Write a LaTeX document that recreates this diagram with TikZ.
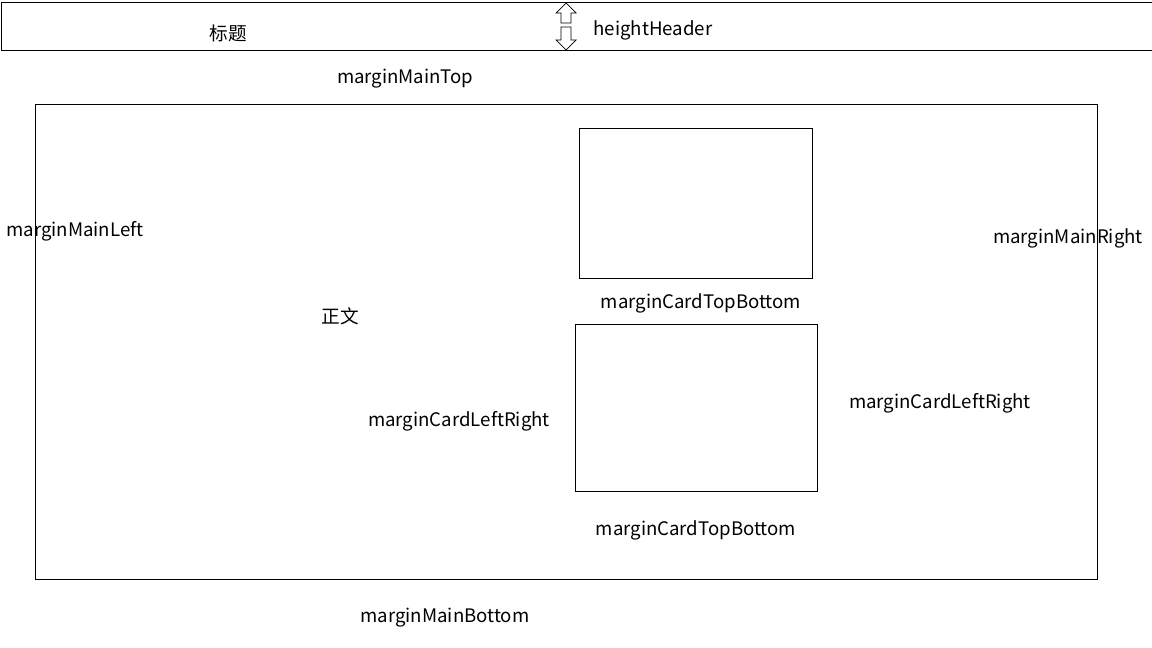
\documentclass[tikz,border=0pt]{standalone}
\usepackage{fontspec}
\setmainfont{Noto Sans CJK SC}
\usetikzlibrary{positioning}

\tikzset{
  box/.style={draw, thin},
  lbl/.style={font=\fontsize{10.6}{12}\selectfont, inner sep=0pt, yshift=-0.05cm},
  blockarrow/.style={draw, thin, fill=white}
}

\begin{document}
\begin{tikzpicture}[x=0.02cm, y=-0.02cm]
   \useasboundingbox (0,0) rectangle (1152,648);
   % header
   \draw [box] (1,2) rectangle (1152,50);
   \node [lbl] (title) at (228,31) {标题};
   \draw [blockarrow] (566,3) -- (576,13) -- (571,13) -- (571,23) -- (561,23) -- (561,13) -- (556,13) -- cycle;
   \draw [blockarrow] (566,50) -- (576,40) -- (571,40) -- (571,27) -- (561,27) -- (561,40) -- (556,40) -- cycle;
   \node [lbl] (hh) at (653,28) {heightHeader};
   \node [lbl] (mtop) at (405,76) {marginMainTop};
   % main area
   \draw [box] (35,104) rectangle (1097,579);
   \node [lbl] (mleft) at (75,229) {marginMainLeft};
   \node [lbl] (mright) at (1068,236) {marginMainRight};
   \node [lbl] (body) at (340,314) {正文};
   % cards
   \draw [box] (579,128) rectangle (812,278);
   \node [lbl] (ctb1) at (701,301) {marginCardTopBottom};
   \draw [box] (575,324) rectangle (817,491);
   \node [lbl] (clr1) at (459,419) {marginCardLeftRight};
   \node [lbl] (clr2) at (940,401) {marginCardLeftRight};
   \node [lbl] (ctb2) at (696,528) {marginCardTopBottom};
   \node [lbl] (mbottom) at (445,615) {marginMainBottom};
\end{tikzpicture}
\end{document}
